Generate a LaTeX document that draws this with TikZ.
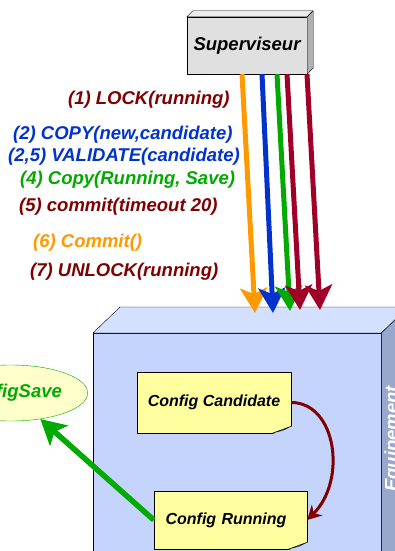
\documentclass[tikz,border=0pt]{standalone}
\usepackage{fontspec}
\setmainfont{Liberation Sans}
\usetikzlibrary{arrows.meta,shapes.geometric}
\definecolor{lockred}{RGB}{128,0,0}
\definecolor{cmdred}{RGB}{160,0,40}
\definecolor{copyblue}{RGB}{0,51,204}
\definecolor{savegreen}{RGB}{0,170,0}
\definecolor{commitorange}{RGB}{255,153,0}
\definecolor{supgray}{RGB}{224,224,224}
\definecolor{suptop}{RGB}{236,236,236}
\definecolor{supside}{RGB}{176,176,176}
\definecolor{equipfront}{RGB}{196,212,252}
\definecolor{equiptop}{RGB}{212,224,255}
\definecolor{equipside}{RGB}{152,168,204}
\definecolor{noteyellow}{RGB}{255,255,160}
\definecolor{notefold}{RGB}{214,214,140}
\definecolor{saveyellow}{RGB}{255,255,204}

\begin{document}
\begin{tikzpicture}[x=1pt, y=-1pt, line join=round,
  every node/.style={font=\fontsize{18.5}{22}\selectfont\bfseries\itshape},
  cmd/.style={anchor=west, inner sep=0pt},
  note/.style={draw, fill=noteyellow, minimum width=154pt, minimum height=61pt, font=\fontsize{16}{19}\selectfont\bfseries\itshape},
  order/.style={-{Stealth[length=25pt, width=27pt, inset=6pt]}, line width=5pt}]
\useasboundingbox (0,0) rectangle (394,551);

\node[draw, fill=equipfront, minimum width=288pt, minimum height=260pt, anchor=north west] (equip) at (93,333) {};
\filldraw[fill=equiptop] (equip.north west) -- ++(27,-26) -- ++(288,0) -- (equip.north east) -- cycle;
\filldraw[fill=equipside] (equip.north east) -- ++(27,-26) -- ++(0,260) -- (equip.south east) -- cycle;
\node[white, rotate=90] (eqlabel) at (393,439) {Equipement};

\node[note] (cand) at (214,402.5) {Config Candidate};
\node[note, minimum width=153pt, minimum height=58pt, text width=140pt, align=center] (run) at (230.5,520) {\hspace*{-9pt}Config Running};
\foreach \n in {cand,run} {
  \fill[equipfront] ([xshift=-19pt,yshift=-1pt]\n.south east) -- ([xshift=1pt,yshift=-1pt]\n.south east) -- ([xshift=1pt,yshift=7pt]\n.south east) -- cycle;
  \filldraw[fill=notefold] ([xshift=-19pt]\n.south east) -- ([yshift=7pt]\n.south east) -- ([xshift=-8pt,yshift=3pt]\n.south east) -- cycle;
}

\node[ellipse, draw=savegreen, fill=saveyellow, text=savegreen, minimum width=152pt, minimum height=56pt] (save) at (11,393) {ConfigSave};
\draw[order, line width=5.5pt, savegreen] (run.west) -- (save);
\draw[lockred, line width=3pt, -{Stealth[length=14pt, width=15pt]}] (cand.east) .. controls +(45,0) and +(40,-40) .. (run.east);

\node[draw, fill=supgray, minimum width=120pt, minimum height=57pt] (sup) at (247,45.5) {Superviseur};
\filldraw[fill=suptop] (sup.north west) -- ++(6,-6) -- ++(120,0) -- (sup.north east) -- cycle;
\filldraw[fill=supside] (sup.north east) -- ++(6,-6) -- ++(0,57) -- (sup.south east) -- cycle;

\coordinate (e1) at (255,313);
\coordinate (e2) at (273,313);
\coordinate (e3) at (290,311);
\coordinate (e4) at (300,310);
\coordinate (e5) at (320,310);
\draw[order, commitorange] ([xshift=-5pt]sup.south) -- (e1);
\draw[order, copyblue] ([xshift=15pt]sup.south) -- (e2);
\draw[order, savegreen] ([xshift=30pt]sup.south) -- (e3);
\draw[order, cmdred] ([xshift=40pt]sup.south) -- (e4);
\draw[order, cmdred] ([xshift=60pt]sup.south) -- (e5);

\node[cmd, lockred] (lock) at (68,100) {(1) LOCK(running)};
\node[cmd, copyblue] (copy) at (13,135) {(2) COPY(new,candidate)};
\node[cmd, copyblue] (validate) at (8,157) {(2,5) VALIDATE(candidate)};
\node[cmd, savegreen] (copysave) at (20,180) {(4) Copy(Running, Save)};
\node[cmd, lockred] (commit) at (19,207) {(5) commit(timeout 20)};
\node[cmd, commitorange] (confirm) at (33,243) {(6) Commit()};
\node[cmd, lockred] (unlock) at (30,272) {(7) UNLOCK(running)};
\end{tikzpicture}
\end{document}
